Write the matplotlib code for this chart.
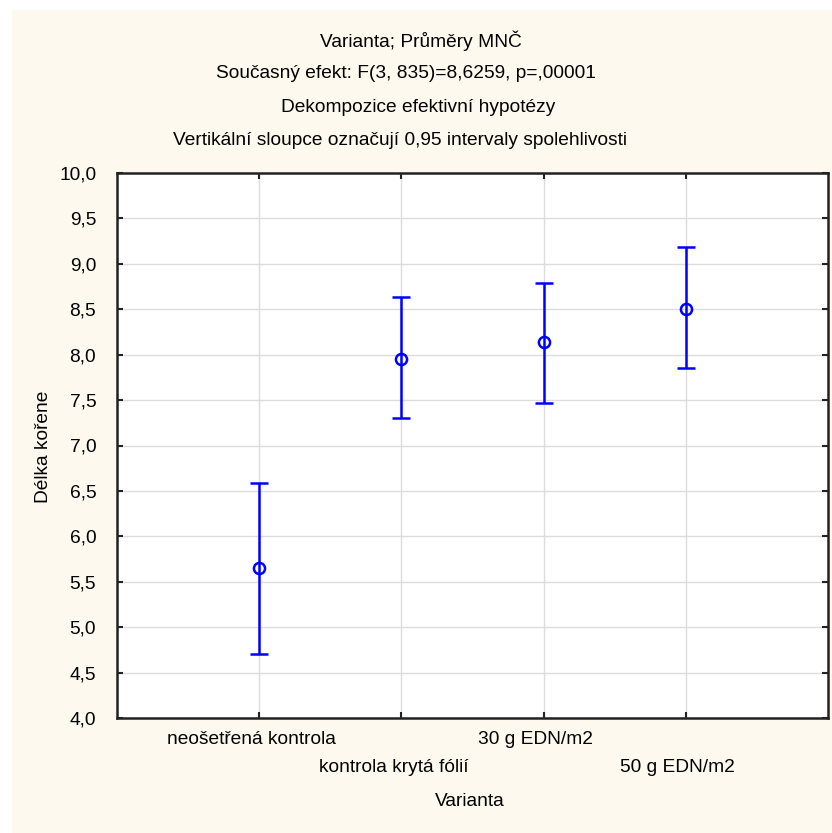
import matplotlib
matplotlib.use("Agg")
import matplotlib.pyplot as plt
import matplotlib.transforms as mtransforms
from matplotlib.patches import Rectangle

plt.rcParams['font.family'] = ['Liberation Sans', 'DejaVu Sans']

categories = ["neošetřená kontrola", "kontrola krytá fólií", "30 g EDN/m2", "50 g EDN/m2"]
means = [5.65, 7.95, 8.14, 8.50]
upper = [6.59, 8.63, 8.79, 9.18]
lower = [4.70, 7.30, 7.47, 7.85]
y_ticks = [4.0, 4.5, 5.0, 5.5, 6.0, 6.5, 7.0, 7.5, 8.0, 8.5, 9.0, 9.5, 10.0]
titles = ["Varianta; Průměry MNČ",
          "Současný efekt: F(3, 835)=8,6259, p=,00001",
          "Dekompozice efektivní hypotézy",
          "Vertikální sloupce označují 0,95 intervaly spolehlivosti"]
xlabel = "Varianta"
ylabel = "Délka kořene"

W, H = 832, 833
FS = 13.8
fig = plt.figure(figsize=(W / 100, H / 100), dpi=100, facecolor='white')
fig.patches.append(Rectangle((12 / W, 0), 1 - 12 / W, 1 - 10 / H, transform=fig.transFigure,
                             facecolor='#fdf9ef', edgecolor='none', zorder=-10))

ax = fig.add_axes([117 / W, 1 - 718 / H, (828 - 117) / W, (718 - 173) / H])
ax.set_facecolor('white')
ax.set_zorder(1)

x = list(range(1, len(categories) + 1))
yerr = [[m - l for m, l in zip(means, lower)], [u - m for m, u in zip(means, upper)]]
ax.errorbar(x, means, yerr=yerr, fmt='o', color='#0000ff', ecolor='#0000ff',
            elinewidth=1.8, capsize=6.5, capthick=1.8, markersize=8,
            markerfacecolor='none', markeredgewidth=1.8, zorder=3)

ax.set_xlim(0, 5)
ax.set_ylim(4.0, 10.0)
ax.set_yticks(y_ticks)
ax.set_yticklabels([f"{v:.1f}".replace('.', ',') for v in y_ticks], fontsize=FS)
ax.set_xticks(x)
ax.set_xticklabels([])

# staggered category labels placed at the data x positions
blend = mtransforms.blended_transform_factory(ax.transData, ax.transAxes)
for i, (xi, lab) in enumerate(zip(x, categories)):
    dy = -22 if i % 2 == 0 else -50
    tr = blend + mtransforms.ScaledTranslation(-8 / 100, dy / 100, fig.dpi_scale_trans)
    ax.text(xi, 0, lab, transform=tr, ha='center', va='center', fontsize=FS, clip_on=False)

ax.grid(True, color='#dcdcdc', linewidth=1.0, zorder=0)
ax.set_axisbelow(True)
ax.tick_params(axis='both', direction='in', length=4, width=1.5, color='#222222',
               top=True, right=True, labelcolor='black')
ax.tick_params(axis='y', pad=15)
for s in ax.spines.values():
    s.set_linewidth(1.8)
    s.set_color('#222222')

fig.text(470 / W, 1 - 802 / H, xlabel, ha='center', va='center', fontsize=FS)
fig.text(44 / W, 1 - 447 / H, ylabel, ha='center', va='center', rotation=90, fontsize=FS)
for tx, ty, t in zip([421, 406, 418, 400], [41, 74, 107, 140], titles):
    fig.text(tx / W, 1 - ty / H, t, ha='center', va='center', fontsize=FS)

fig.savefig("out.png", dpi=100, facecolor=fig.get_facecolor())
